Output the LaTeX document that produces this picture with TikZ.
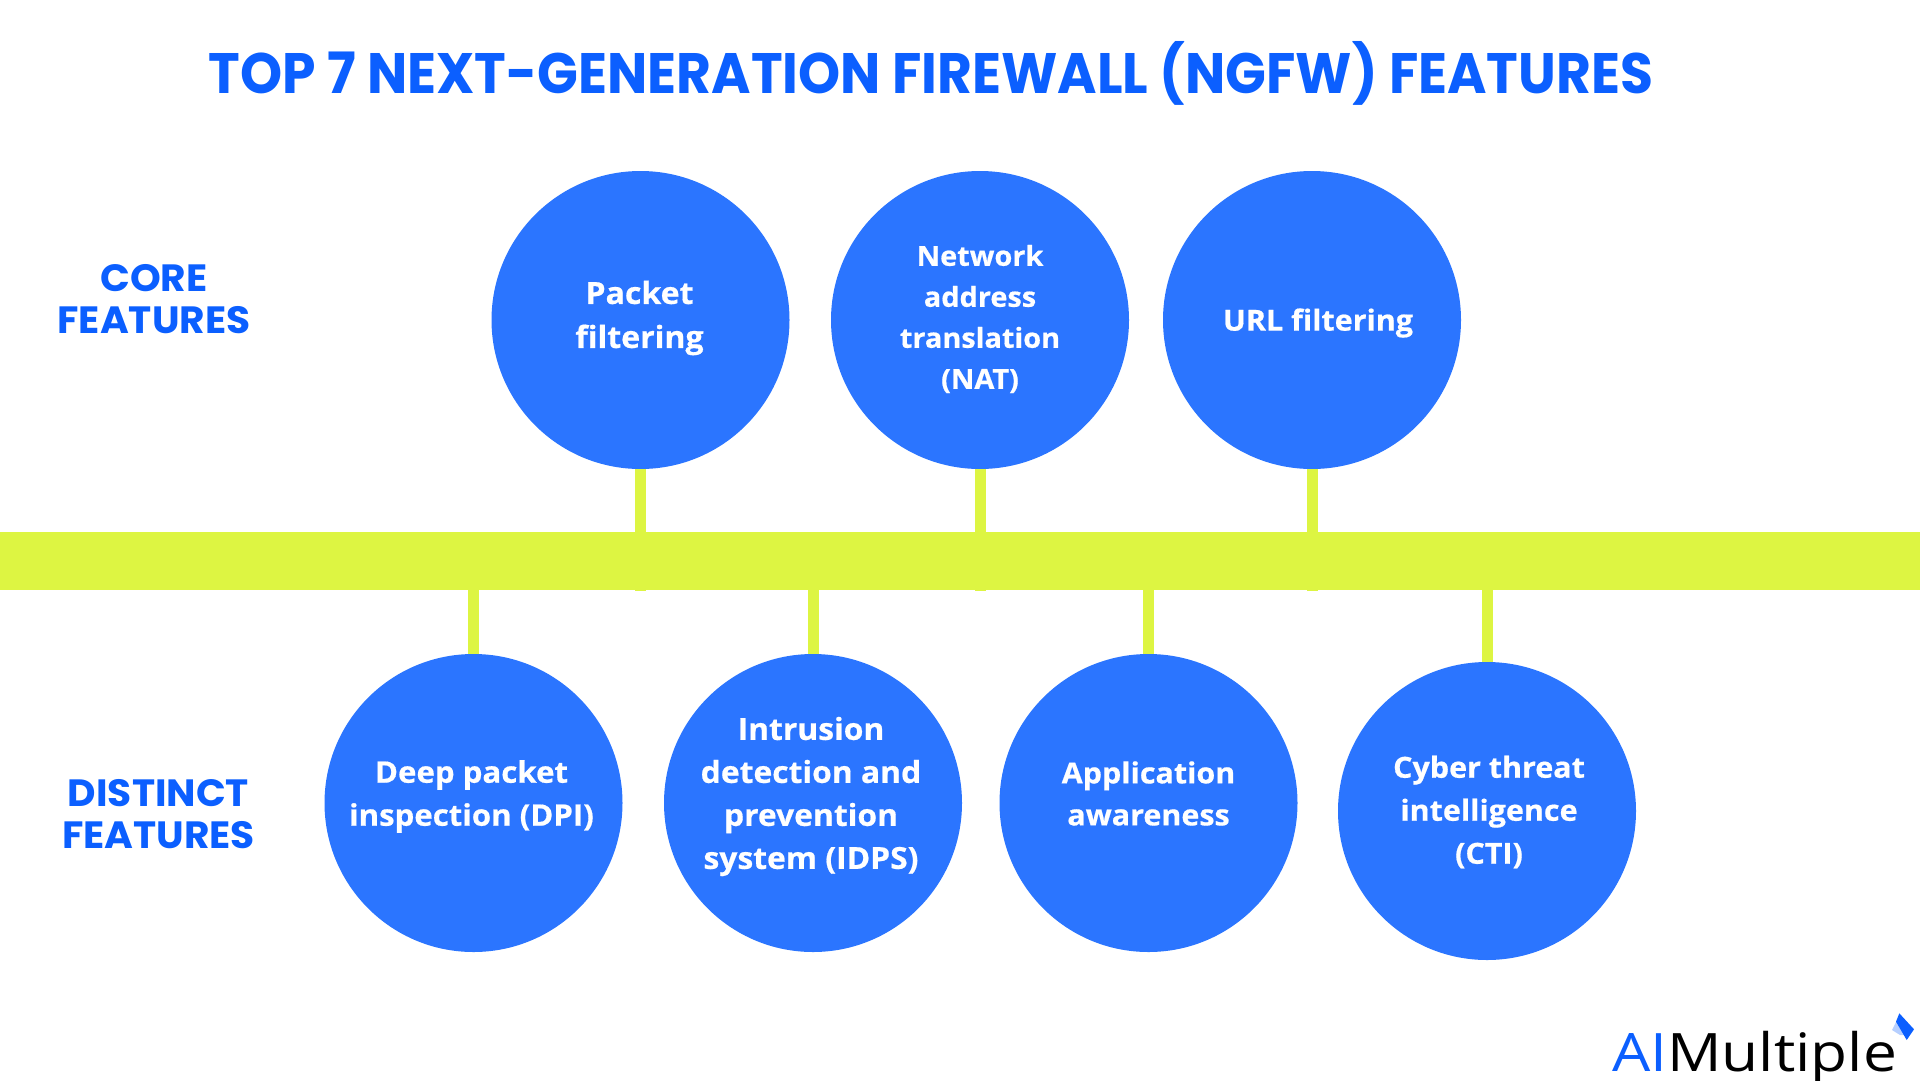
\documentclass[tikz,border=0pt]{standalone}
\usepackage{fontspec}
\setmainfont{Poppins}
\newfontfamily\titlefont{Poppins}[FakeStretch=0.94]
\newfontfamily\headfont{Poppins}[FakeStretch=1.03]
\newfontfamily\circlefont{Open Sans}[FakeStretch=1.05,BoldFeatures={FakeBold=0.6}]
\newfontfamily\logofont{Open Sans}[FakeStretch=1.14]
\definecolor{circleblue}{HTML}{2B75FF}
\definecolor{titleblue}{HTML}{0B5FFF}
\definecolor{barlime}{HTML}{DDF542}
\tikzset{
  x=1pt,y=-1pt,
  feature/.style={circle,fill=circleblue,draw=none,minimum size=298pt,inner sep=0pt},
  featuretext/.style={text=white,align=center,inner sep=0pt,font=\circlefont\bfseries\fontsize{29}{43}\selectfont},
  headlabel/.style={text=titleblue,align=center,inner sep=0pt,font=\headfont\bfseries\fontsize{38}{42}\selectfont},
  stem/.style={draw=barlime,line width=11pt},
  bandbar/.style={fill=barlime,draw=none,minimum width=1920pt,minimum height=58pt,inner sep=0pt}
}
\begin{document}
\begin{tikzpicture}
\useasboundingbox (0,0) rectangle (1920,1080);
\node[anchor=center,inner sep=0pt,text=titleblue,font=\titlefont\bfseries\fontsize{57}{60}\selectfont] (title) at (931,73) {TOP 7 NEXT-GENERATION FIREWALL (NGFW) FEATURES};
\node[headlabel] (core) at (154,299) {CORE\\FEATURES};
\node[headlabel] (distinct) at (158.5,814) {DISTINCT\\FEATURES};
\node[bandbar] (bar) at (960,561) {};
\node[feature] (c1) at (640.5,320) {};
\node[feature] (c2) at (980,320) {};
\node[feature] (c3) at (1312,320) {};
\node[feature] (d1) at (473.5,803) {};
\node[feature] (d2) at (813,803) {};
\node[feature] (d3) at (1148.5,803) {};
\node[feature] (d4) at (1487,811) {};
\node[featuretext,font=\circlefont\bfseries\fontsize{30.5}{44}\selectfont] (c1t) at ([shift={(-1,-2)}]c1.center) {Packet\\filtering};
\node[featuretext,font=\circlefont\bfseries\fontsize{27.5}{41}\selectfont] (c2t) at ([shift={(0,-1)}]c2.center) {Network\\address\\translation\\(NAT)};
\node[featuretext] (c3t) at ([shift={(6,3)}]c3.center) {URL filtering};
\node[featuretext,font=\circlefont\bfseries\fontsize{29.7}{43}\selectfont] (d1t) at ([shift={(-2,-6.5)}]d1.center) {Deep packet\\inspection (DPI)};
\node[featuretext,font=\circlefont\bfseries\fontsize{30.3}{43}\selectfont] (d2t) at ([shift={(-2,-6.5)}]d2.center) {Intrusion\\detection and\\prevention\\system (IDPS)};
\node[featuretext,font=\circlefont\bfseries\fontsize{29}{42}\selectfont] (d3t) at ([shift={(0,-9.5)}]d3.center) {Application\\awareness};
\node[featuretext] (d4t) at ([shift={(2,1)}]d4.center) {Cyber threat\\intelligence\\(CTI)};
\foreach \n in {c1,c2,c3}{\draw[stem] (\n.south) -- ([yshift=-1pt]\n.south |- bar.south);}
\foreach \n in {d1,d2,d3,d4}{\draw[stem] (\n.north) -- (\n.north |- bar.south);}
\node[anchor=base west,inner sep=0pt,font=\logofont\fontsize{53}{55}\selectfont] (logo) at (1612,1071) {\textcolor{titleblue}{AI}Multiple};
\fill[titleblue!30] (1892,1030) -- (1897,1020) -- (1907,1035) -- (1900,1035) -- cycle;
\fill[titleblue] (1899.3,1013.3) -- (1914,1029.3) -- (1906.7,1040) -- (1896,1021.7) -- cycle;
\end{tikzpicture}
\end{document}
